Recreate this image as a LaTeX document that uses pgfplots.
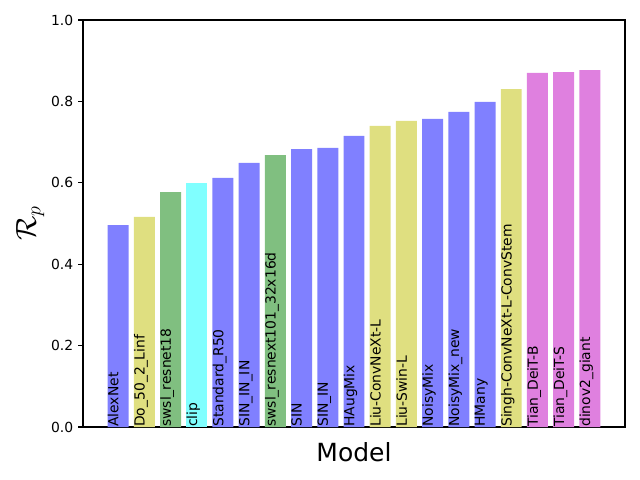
\documentclass[border=0pt]{standalone}
\usepackage{pgfplots}
\pgfplotsset{compat=1.18}
\usepackage{fontspec}
\setmainfont{DejaVu Sans}
\definecolor{cb}{HTML}{8080FF}
\definecolor{cy}{HTML}{DFDF80}
\definecolor{cg}{HTML}{80BF80}
\definecolor{cc}{HTML}{80FFFF}
\definecolor{cm}{HTML}{DF80DF}
\begin{document}
\begin{tikzpicture}
\useasboundingbox (-59.76pt,-38.16pt) rectangle (401.04pt,307.44pt);
\begin{axis}[
  at={(0,0)}, anchor=south west,
  scale only axis, width=390.24pt, height=293.04pt,
  xmin=-1.34, xmax=19.34, ymin=0, ymax=1,
  xtick=\empty,
  ytick={0,0.2,0.4,0.6,0.8,1.0},
  yticklabel style={/pgf/number format/fixed,/pgf/number format/fixed zerofill,/pgf/number format/precision=1,font=\fontsize{10}{12}\selectfont},
  /pgf/number format/assume math mode=true,
  tick align=outside, major tick length=3.5pt,
  every tick/.style={black, line width=0.8pt},
  axis line style={line width=0.8pt},
  ytick pos=left,
  xlabel={Model}, ylabel={\fontsize{20}{22}\selectfont$\mathcal{R}_p$},
  xlabel style={font=\fontsize{18}{20}\selectfont, at={(axis description cs:0.5,0)}, anchor=center, yshift=-18pt},
  ylabel style={at={(axis description cs:0,0.5)}, anchor=center, rotate=0, yshift=38pt},
  clip=false,
]
\addplot[ybar, bar width=0.8, fill=cb, draw=none] coordinates {(0,0.496) (4,0.612) (5,0.649) (7,0.683) (8,0.686) (9,0.715) (12,0.757) (13,0.774) (14,0.799)};
\addplot[ybar, bar width=0.8, fill=cy, draw=none] coordinates {(1,0.516) (10,0.740) (11,0.752) (15,0.830)};
\addplot[ybar, bar width=0.8, fill=cg, draw=none] coordinates {(2,0.577) (6,0.668)};
\addplot[ybar, bar width=0.8, fill=cc, draw=none] coordinates {(3,0.600)};
\addplot[ybar, bar width=0.8, fill=cm, draw=none] coordinates {(16,0.870) (17,0.872) (18,0.877)};
\addplot[only marks, mark=none, nodes near coords, point meta=explicit symbolic,
  nodes near coords style={rotate=90, anchor=north west, inner sep=0pt, font=\fontsize{10}{12}\selectfont, black}]
  coordinates {
  (-0.4,0) [AlexNet]
  (0.6,0) [Do\_50\_2\_Linf]
  (1.6,0) [swsl\_resnet18]
  (2.6,0) [clip]
  (3.6,0) [Standard\_R50]
  (4.6,0) [SIN\_IN\_IN]
  (5.6,0) [swsl\_resnext101\_32x16d]
  (6.6,0) [SIN]
  (7.6,0) [SIN\_IN]
  (8.6,0) [HAugMix]
  (9.6,0) [Liu-ConvNeXt-L]
  (10.6,0) [Liu-Swin-L]
  (11.6,0) [NoisyMix]
  (12.6,0) [NoisyMix\_new]
  (13.6,0) [HMany]
  (14.6,0) [Singh-ConvNeXt-L-ConvStem]
  (15.6,0) [Tian\_DeiT-B]
  (16.6,0) [Tian\_DeiT-S]
  (17.6,0) [dinov2\_giant]
  };
\end{axis}
\end{tikzpicture}
\end{document}
